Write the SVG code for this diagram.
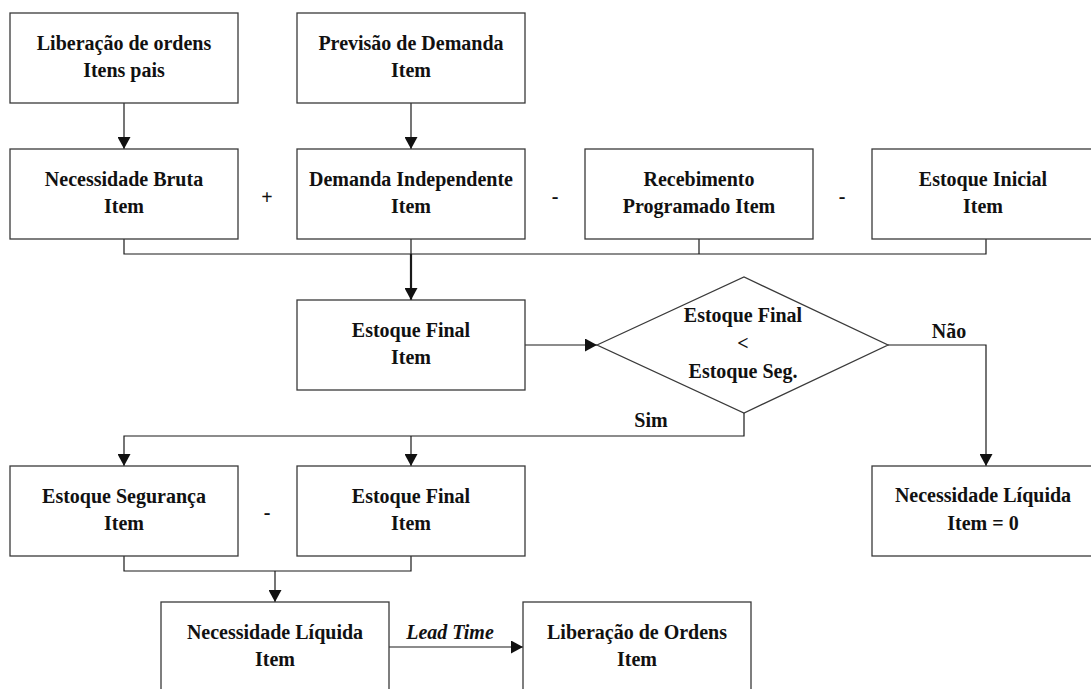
<svg xmlns="http://www.w3.org/2000/svg" width="1091" height="689" viewBox="0 0 1091 689">
  <style>
    .box { fill: #ffffff; stroke: #3a3a3a; stroke-width: 1.3; }
    .lbl { font-family: "Liberation Serif", "Times New Roman", serif; font-weight: bold; font-size: 20px; fill: #111111; text-anchor: middle; }
    .it { font-style: italic; }
    .wire { fill: none; stroke: #1a1a1a; stroke-width: 1.2; }
    .thick { stroke-width: 2.2; }
  </style>
  <defs>
    <marker id="arrow" markerUnits="userSpaceOnUse" markerWidth="13" markerHeight="13" refX="12" refY="6.5" orient="auto">
      <path d="M0,0 L12,6.5 L0,13 z" fill="#111111"/>
    </marker>
  </defs>

  <rect width="1091" height="689" fill="#ffffff"/>

  <!-- connectors -->
  <g id="connectors">
    <line class="wire" x1="124" y1="103" x2="124" y2="149" marker-end="url(#arrow)"/>
    <line class="wire" x1="411" y1="103" x2="411" y2="149" marker-end="url(#arrow)"/>
    <!-- sum bus under the second row -->
    <polyline class="wire" points="124,239 124,254 986,254 986,239"/>
    <line class="wire" x1="699" y1="239" x2="699" y2="254"/>
    <line class="wire" x1="411" y1="239" x2="411" y2="254"/>
    <line class="wire thick" x1="411" y1="254" x2="411" y2="300" marker-end="url(#arrow)"/>
    <!-- into the decision -->
    <line class="wire" x1="525" y1="345" x2="597" y2="345" marker-end="url(#arrow)"/>
    <!-- Não branch -->
    <polyline class="wire" points="888,345 986,345 986,466" marker-end="url(#arrow)"/>
    <!-- Sim branch -->
    <polyline class="wire" points="744,413 744,436 124,436 124,466" marker-end="url(#arrow)"/>
    <line class="wire" x1="411" y1="436" x2="411" y2="466" marker-end="url(#arrow)"/>
    <!-- difference bus under the fourth row -->
    <polyline class="wire" points="124,556 124,571 411,571 411,556"/>
    <line class="wire" x1="275" y1="571" x2="275" y2="602" marker-end="url(#arrow)"/>
    <!-- lead time -->
    <line class="wire" x1="389" y1="647" x2="523" y2="647" marker-end="url(#arrow)"/>
    <text class="lbl it" x="450" y="639">Lead Time</text>
    <text class="lbl" x="949" y="338">Não</text>
    <text class="lbl" x="651" y="427">Sim</text>
  </g>

  <!-- operators between boxes -->
  <g id="operators">
    <text class="lbl" x="267" y="204">+</text>
    <text class="lbl" x="555" y="203">-</text>
    <text class="lbl" x="842" y="203">-</text>
    <text class="lbl" x="267" y="519">-</text>
  </g>

  <g id="liberacao-pais">
    <rect class="box" x="10" y="13" width="228" height="90"/>
    <text class="lbl" x="124" y="50">Liberação de ordens</text>
    <text class="lbl" x="124" y="77">Itens pais</text>
  </g>
  <g id="previsao-demanda">
    <rect class="box" x="297" y="13" width="228" height="90"/>
    <text class="lbl" x="411" y="50">Previsão de Demanda</text>
    <text class="lbl" x="411" y="77">Item</text>
  </g>

  <g id="necessidade-bruta">
    <rect class="box" x="10" y="149" width="228" height="90"/>
    <text class="lbl" x="124" y="186">Necessidade Bruta</text>
    <text class="lbl" x="124" y="213">Item</text>
  </g>
  <g id="demanda-independente">
    <rect class="box" x="297" y="149" width="228" height="90"/>
    <text class="lbl" x="411" y="186">Demanda Independente</text>
    <text class="lbl" x="411" y="213">Item</text>
  </g>
  <g id="recebimento-programado">
    <rect class="box" x="585" y="149" width="228" height="90"/>
    <text class="lbl" x="699" y="186">Recebimento</text>
    <text class="lbl" x="699" y="213">Programado Item</text>
  </g>
  <g id="estoque-inicial">
    <rect class="box" x="872" y="149" width="228" height="90"/>
    <text class="lbl" x="983" y="186">Estoque Inicial</text>
    <text class="lbl" x="983" y="213">Item</text>
  </g>

  <g id="estoque-final">
    <rect class="box" x="297" y="300" width="228" height="90"/>
    <text class="lbl" x="411" y="337">Estoque Final</text>
    <text class="lbl" x="411" y="364">Item</text>
  </g>

  <g id="decisao">
    <polygon class="box" points="597,345 744,277 888,345 744,413"/>
    <text class="lbl" x="743" y="322">Estoque Final</text>
    <text class="lbl" x="743" y="350">&lt;</text>
    <text class="lbl" x="743" y="378">Estoque Seg.</text>
  </g>

  <g id="estoque-seguranca">
    <rect class="box" x="10" y="466" width="228" height="90"/>
    <text class="lbl" x="124" y="503">Estoque Segurança</text>
    <text class="lbl" x="124" y="530">Item</text>
  </g>
  <g id="estoque-final-2">
    <rect class="box" x="297" y="466" width="228" height="90"/>
    <text class="lbl" x="411" y="503">Estoque Final</text>
    <text class="lbl" x="411" y="530">Item</text>
  </g>
  <g id="necessidade-liquida-zero">
    <rect class="box" x="872" y="466" width="228" height="90"/>
    <text class="lbl" x="983" y="502">Necessidade Líquida</text>
    <text class="lbl" x="983" y="530">Item = 0</text>
  </g>

  <g id="necessidade-liquida">
    <rect class="box" x="161" y="602" width="228" height="95"/>
    <text class="lbl" x="275" y="639">Necessidade Líquida</text>
    <text class="lbl" x="275" y="666">Item</text>
  </g>
  <g id="liberacao-ordens">
    <rect class="box" x="523" y="602" width="228" height="95"/>
    <text class="lbl" x="637" y="639">Liberação de Ordens</text>
    <text class="lbl" x="637" y="666">Item</text>
  </g>
</svg>
